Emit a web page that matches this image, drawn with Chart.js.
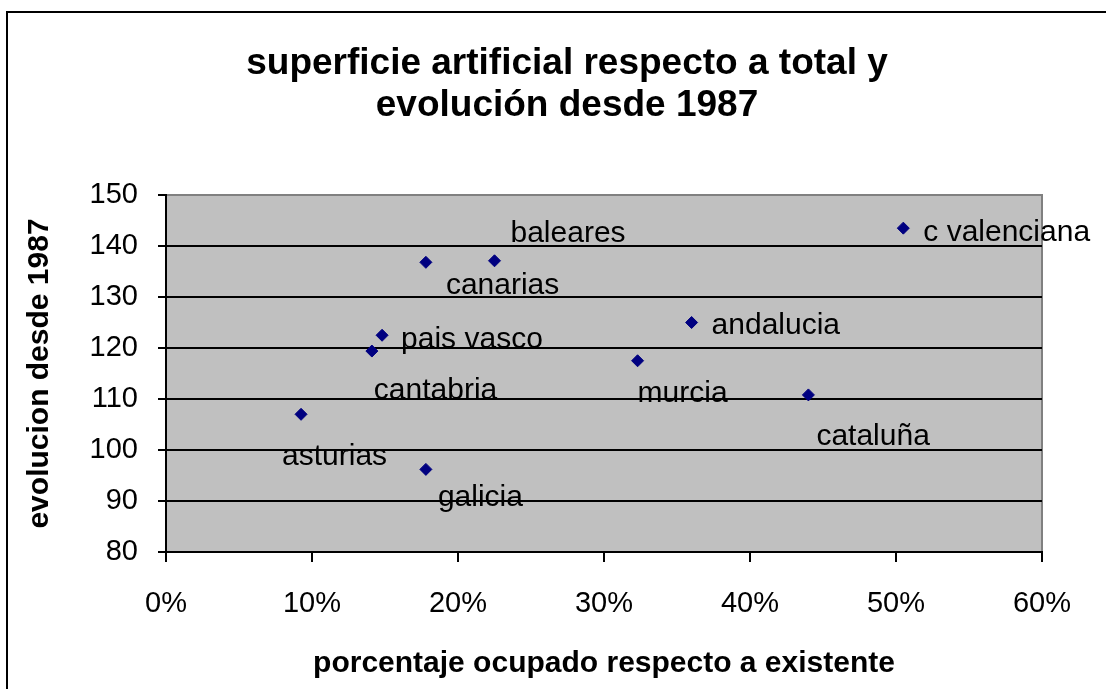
<!DOCTYPE html>
<html>
<head>
<meta charset="utf-8">
<script src="https://cdn.jsdelivr.net/npm/chart.js@4/dist/chart.umd.min.js"></script>
<style>
  body { margin: 0; background: #fff; }
  #wrap { position: relative; width: 1106px; height: 689px; overflow: hidden; }
  #frame { position: absolute; left: 6px; top: 11px; width: 1200px; height: 800px; border: 2px solid #000; pointer-events: none; }
</style>
</head>
<body>
<div id="wrap">
  <canvas id="chart" width="1106" height="689"></canvas>
  <div id="frame"></div>
</div>
<script>
// comunidades y valores
const regions = ['asturias', 'galicia', 'cantabria', 'pais vasco', 'canarias', 'baleares', 'murcia', 'andalucia', 'cataluña', 'c valenciana'];
const pctOccupied = [9.25, 17.8, 14.1, 14.8, 17.8, 22.5, 32.3, 36.0, 44.0, 50.5];
const evolution = [107.0, 96.2, 119.4, 122.5, 136.8, 137.1, 117.5, 125.0, 110.8, 143.5];
const xTicks = [0, 10, 20, 30, 40, 50, 60];
const yTicks = [80, 90, 100, 110, 120, 130, 140, 150];

// desplazamiento de cada etiqueta respecto a su punto (px)
const labelOffsets = {
  'asturias': [-19, 42],
  'galicia': [12, 28],
  'cantabria': [2, 40],
  'pais vasco': [19, 4],
  'canarias': [20, 23],
  'baleares': [16, -27],
  'murcia': [0, 33],
  'andalucia': [20, 3],
  'cataluña': [8, 42],
  'c valenciana': [20, 5]
};

const FONT = 'Liberation Sans, Arial, sans-serif';

// fondo gris del area de trazado y borde gris arriba/derecha
const plotBackground = {
  id: 'plotBackground',
  beforeDraw(chart) {
    const { ctx, chartArea: a } = chart;
    ctx.save();
    ctx.fillStyle = '#c0c0c0';
    ctx.fillRect(a.left, a.top, a.right - a.left, a.bottom - a.top);
    ctx.strokeStyle = '#808080';
    ctx.lineWidth = 2;
    ctx.beginPath();
    ctx.moveTo(a.left, a.top);
    ctx.lineTo(a.right, a.top);
    ctx.lineTo(a.right, a.bottom);
    ctx.stroke();
    ctx.restore();
  }
};

// etiquetas con el nombre de cada comunidad
const pointLabels = {
  id: 'pointLabels',
  afterDatasetsDraw(chart) {
    const { ctx } = chart;
    const meta = chart.getDatasetMeta(0);
    ctx.save();
    ctx.font = '30px ' + FONT;
    ctx.fillStyle = '#000';
    ctx.textAlign = 'left';
    ctx.textBaseline = 'middle';
    meta.data.forEach((pt, i) => {
      const off = labelOffsets[regions[i]];
      ctx.fillText(regions[i], pt.x + off[0], pt.y + off[1]);
    });
    ctx.restore();
  }
};

const ctx = document.getElementById('chart').getContext('2d');
const chart = new Chart(ctx, {
  type: 'scatter',
  data: {
    datasets: [{
      label: 'evolucion',
      data: pctOccupied.map((x, i) => ({ x: x, y: evolution[i] })),
      pointStyle: 'rectRot',
      pointRadius: 6,
      borderWidth: 1,
      backgroundColor: '#000080',
      borderColor: '#000080'
    }]
  },
  options: {
    responsive: false,
    animation: false,
    layout: { padding: { left: 28, right: 0, top: 0, bottom: 0 } },
    plugins: {
      legend: { display: false },
      tooltip: { enabled: false },
      title: {
        display: true,
        text: ['superficie artificial respecto a total y', 'evolución desde 1987'],
        color: '#000',
        font: { family: FONT, size: 37, weight: 'bold', lineHeight: 42 / 37 },
        padding: { top: 43, bottom: 68 }
      }
    },
    scales: {
      x: {
        type: 'linear',
        min: 0,
        max: 60,
        afterBuildTicks: (s) => { s.ticks = xTicks.map(v => ({ value: v })); },
        afterFit: (s) => { s.height = 137; },
        ticks: {
          color: '#000',
          font: { family: FONT, size: 29 },
          padding: 25,
          maxRotation: 0,
          callback: (v) => v + '%'
        },
        grid: { drawOnChartArea: false, drawTicks: true, tickLength: 10, tickColor: '#000', lineWidth: 2 },
        border: { display: true, color: '#000', width: 2 },
        title: {
          display: true,
          text: 'porcentaje ocupado respecto a existente',
          color: '#000',
          font: { family: FONT, size: 30, weight: 'bold', lineHeight: 0.8 },
          padding: { top: 0, bottom: 13 }
        }
      },
      y: {
        type: 'linear',
        min: 80,
        max: 150,
        afterBuildTicks: (s) => { s.ticks = yTicks.map(v => ({ value: v })); },
        afterFit: (s) => { s.width = 138; },
        ticks: {
          color: '#000',
          font: { family: FONT, size: 29 },
          padding: 20
        },
        grid: {
          color: (c) => (c.tick && c.tick.value === 150 ? '#808080' : '#000'),
          lineWidth: 2,
          tickLength: 8,
          tickColor: '#000'
        },
        border: { display: true, color: '#000', width: 2 },
        title: {
          display: true,
          text: 'evolucion desde 1987',
          color: '#000',
          font: { family: FONT, size: 30, weight: 'bold', lineHeight: 0.8 },
          padding: { top: 0, bottom: 0 }
        }
      },
      yRight: {
        type: 'linear',
        position: 'right',
        display: true,
        afterFit: (s) => { s.width = 64; },
        ticks: { display: false },
        grid: { display: false },
        border: { display: false },
        title: { display: false }
      }
    }
  },
  plugins: [plotBackground, pointLabels]
});
</script>
</body>
</html>
